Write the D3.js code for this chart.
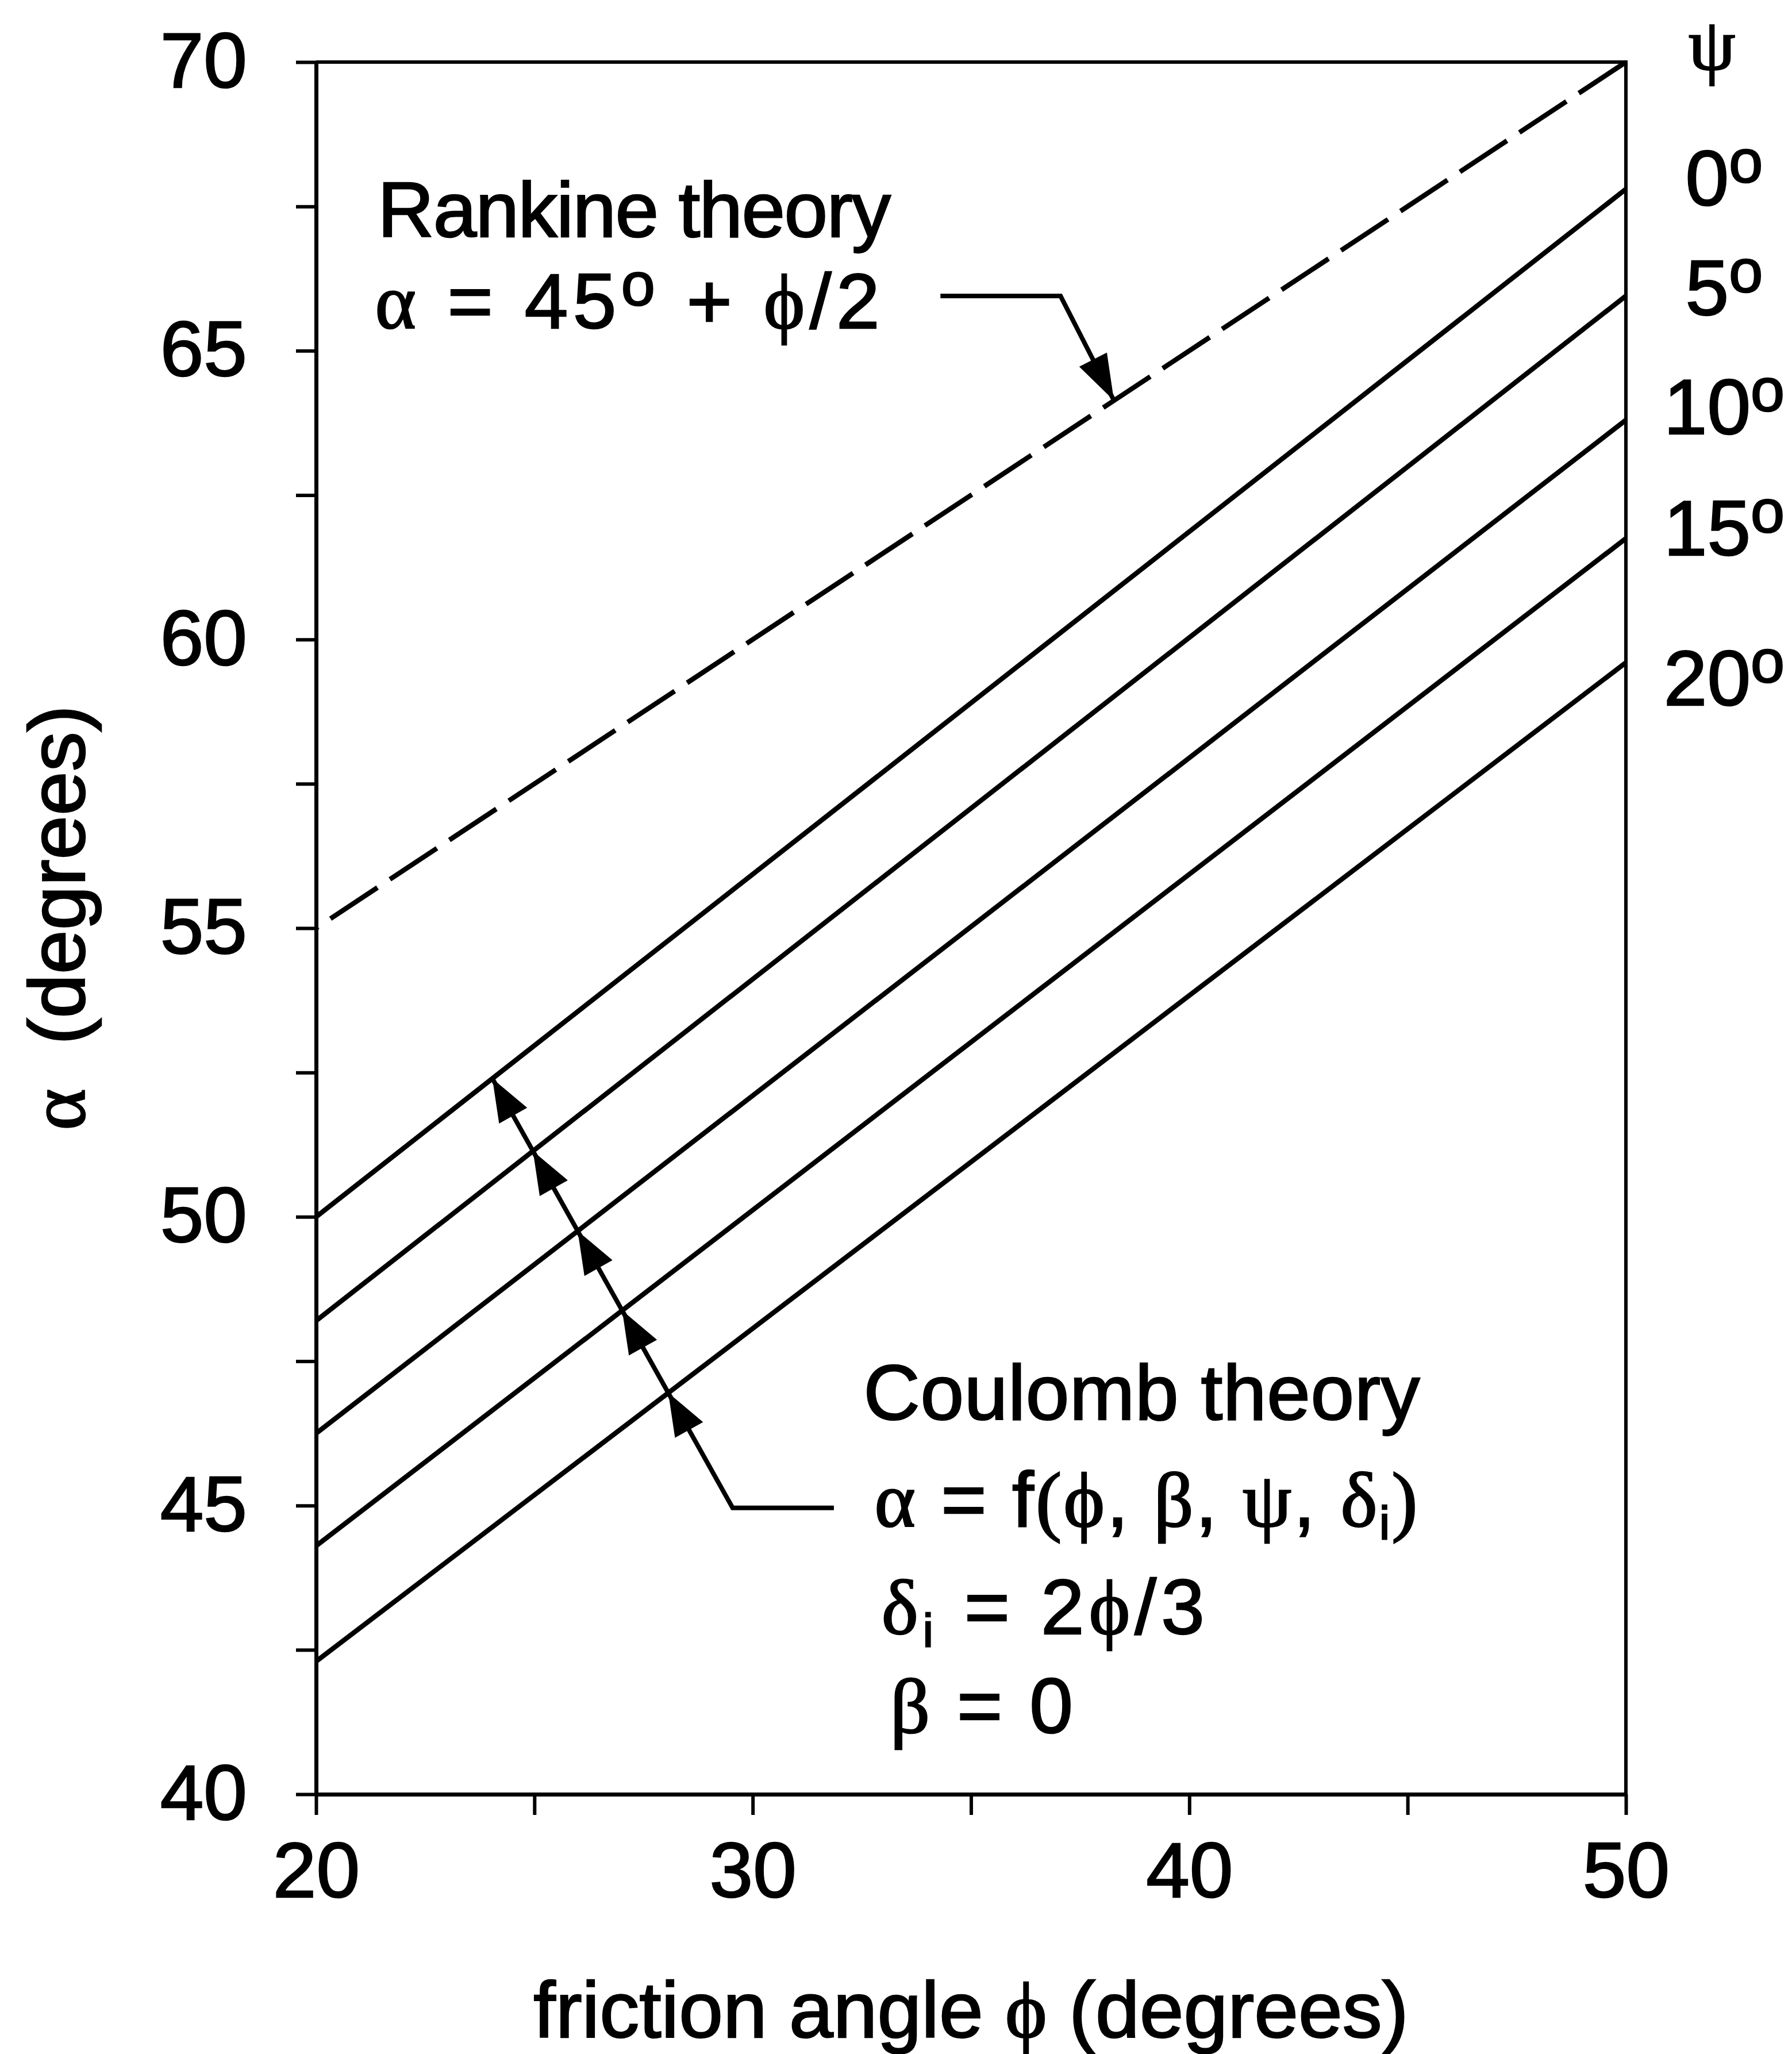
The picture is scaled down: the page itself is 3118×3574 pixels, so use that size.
<!DOCTYPE html>
<html>
<head>
<meta charset="utf-8">
<script src="https://cdn.jsdelivr.net/npm/d3@7"></script>
<style>
    body { margin: 0; background: #fff; }
    text { font-family: "Liberation Sans", Arial, Helvetica, sans-serif; fill: #000; stroke: #000; stroke-width: 2.5px; }
    .gr { font-family: "Liberation Serif", "Times New Roman", serif; }
</style>
</head>
<body>
<div id="chart"></div>
<script>

// ---- data ----
const phiEnds = [20, 50];
const psiValues = [0, 5, 10, 15, 20];
const alphaAtPhi20 = [50.0, 48.2, 46.25, 44.3, 42.3];
const alphaAtPhi50 = [67.8, 65.95, 63.8, 61.75, 59.6];
const rankineAlpha = [55, 70];

const xTickValues = [20, 25, 30, 35, 40, 45, 50];
const xTickLabels = [20, 30, 40, 50];
const yTickValues = [40, 42.5, 45, 47.5, 50, 52.5, 55, 57.5, 60, 62.5, 65, 67.5, 70];
const yTickLabels = [40, 45, 50, 55, 60, 65, 70];

// label anchors (in data units) for the psi column on the right
const psiLabelAlpha = [67.52, 65.62, 63.56, 61.46, 58.86];

// ---- layout ----
const W = 3118, H = 3574;
const margin = {top: 108, right: 289, bottom: 452, left: 550};
const width = W - margin.left - margin.right;
const height = H - margin.top - margin.bottom;
const FS = 136;
const PHI = "\u03d5";

const svg = d3.select("#chart").append("svg")
    .attr("width", W)
    .attr("height", H);

const g = svg.append("g")
    .attr("transform", `translate(${margin.left},${margin.top})`);

const x = d3.scaleLinear().domain([20, 50]).range([0, width]);
const y = d3.scaleLinear().domain([40, 70]).range([height, 0]);

// axes
const xAxis = d3.axisBottom(x)
    .tickValues(xTickValues)
    .tickSize(36)
    .tickSizeOuter(0)
    .tickPadding(46)
    .tickFormat(d => xTickLabels.includes(d) ? d : "");

const yAxis = d3.axisLeft(y)
    .tickValues(yTickValues)
    .tickSize(35)
    .tickSizeOuter(0)
    .tickPadding(85)
    .tickFormat(d => yTickLabels.includes(d) ? d : "");

const gx = g.append("g")
    .attr("transform", `translate(0,${height})`)
    .call(xAxis);
const gy = g.append("g").call(yAxis);

[gx, gy].forEach(a => {
    a.attr("font-family", null).attr("font-size", null);
    a.select(".domain").attr("stroke-width", 7);
    a.selectAll(".tick line").attr("stroke-width", 6);
    a.selectAll(".tick text").style("font-size", FS + "px");
});

// top and right sides of the frame
g.append("path")
    .attr("d", `M${x(20)},${y(70)}H${x(50)}V${y(40)}`)
    .attr("fill", "none")
    .attr("stroke", "#000")
    .attr("stroke-width", 6);

// curves
const line = d3.line().x(d => x(d[0])).y(d => y(d[1]));

const psiLines = psiValues.map((psi, i) => ({
    psi: psi,
    pts: [[phiEnds[0], alphaAtPhi20[i]], [phiEnds[1], alphaAtPhi50[i]]]
}));

g.selectAll(".psi-line")
    .data(psiLines)
    .enter()
    .append("path")
    .attr("class", "psi-line")
    .attr("d", d => line(d.pts))
    .attr("fill", "none")
    .attr("stroke", "#000")
    .attr("stroke-width", 8.5);

const rankinePts = phiEnds.map((p, i) => [p, rankineAlpha[i]]);
g.append("path")
    .datum(rankinePts)
    .attr("d", line)
    .attr("fill", "none")
    .attr("stroke", "#000")
    .attr("stroke-width", 8.5)
    .attr("stroke-dasharray", "98 26")
    .attr("stroke-dashoffset", 94);

// ---- annotation arrows ----
function px(p) { return [x(p[0]), y(p[1])]; }

function intersect(p1, p2, p3, p4) {
    const d = (p1[0] - p2[0]) * (p3[1] - p4[1]) - (p1[1] - p2[1]) * (p3[0] - p4[0]);
    const t = ((p1[0] - p3[0]) * (p3[1] - p4[1]) - (p1[1] - p3[1]) * (p3[0] - p4[0])) / d;
    return [p1[0] + t * (p2[0] - p1[0]), p1[1] + t * (p2[1] - p1[1])];
}

function arrowHead(tip, from, len, half) {
    const dx = tip[0] - from[0], dy = tip[1] - from[1];
    const L = Math.hypot(dx, dy);
    const ux = dx / L, uy = dy / L;
    const bx = tip[0] - ux * len, by = tip[1] - uy * len;
    return `M${tip[0]},${tip[1]}L${bx - uy * half},${by + ux * half}L${bx + uy * half},${by - ux * half}Z`;
}

const arrows = g.append("g");

// Rankine leader
const rStart = px([34.3, 65.95]);
const rElbow = px([37.05, 65.95]);
const rTip = intersect(rElbow, px([38.3, 64.1]), px(rankinePts[0]), px(rankinePts[1]));
arrows.append("path")
    .attr("d", `M${rStart}L${rElbow}L${rTip}`)
    .attr("fill", "none")
    .attr("stroke", "#000")
    .attr("stroke-width", 8);
arrows.append("path")
    .attr("d", arrowHead(rTip, rElbow, 80, 27));

// Coulomb leader with an arrowhead on every psi line
const cStart = px([31.86, 44.96]);
const cElbow = px([29.54, 44.96]);
const cHint = px([23.96, 52.5]);
const crossings = psiLines.map(d => intersect(cElbow, cHint, px(d.pts[0]), px(d.pts[1])));
const cTip = crossings[0];
arrows.append("path")
    .attr("d", `M${cStart}L${cElbow}L${cTip}`)
    .attr("fill", "none")
    .attr("stroke", "#000")
    .attr("stroke-width", 8);
arrows.selectAll(".head")
    .data(crossings)
    .enter()
    .append("path")
    .attr("class", "head")
    .attr("d", c => arrowHead(c, cElbow, 74, 28));

// ---- text ----
function rich(sel, parts) {
    parts.forEach(p => {
        const t = sel.append("tspan").text(p.t);
        if (p.c) t.attr("class", p.c);
        if (p.dy) t.attr("dy", p.dy);
        if (p.fs) t.style("font-size", p.fs + "px");
    });
    return sel;
}

function label(phi, alpha, anchor, len) {
    const t = g.append("text")
        .attr("x", x(phi))
        .attr("y", y(alpha))
        .attr("text-anchor", anchor || "start")
        .style("font-size", FS + "px");
    if (len) t.attr("textLength", len).attr("lengthAdjust", "spacing");
    return t;
}

const degUp = {t: "o", fs: FS * 0.78, dy: -40};

label(21.41, 66.97, "start", 893).text("Rankine theory");
rich(label(21.35, 65.39, "start", 878), [
    {t: "\u03b1", c: "gr"}, {t: " = 45"}, degUp,
    {t: " + ", dy: 40}, {t: PHI, c: "gr"}, {t: "/2"}
]);

label(32.54, 46.49, "start", 968).text("Coulomb theory");
rich(label(32.79, 44.64, "start", 945), [
    {t: "\u03b1", c: "gr"}, {t: " = f"}, {t: "(", c: "gr"},
    {t: PHI, c: "gr"}, {t: ", "}, {t: "\u03b2", c: "gr"}, {t: ", "},
    {t: "\u03c8", c: "gr"}, {t: ", "}, {t: "\u03b4", c: "gr"},
    {t: "i", fs: FS * 0.6, dy: 22}, {t: ")", c: "gr", dy: -22}
]);
rich(label(32.95, 42.78, "start", 562), [
    {t: "\u03b4", c: "gr"}, {t: "i", fs: FS * 0.6, dy: 22},
    {t: " = 2", dy: -22}, {t: PHI, c: "gr"}, {t: "/3"}
]);
rich(label(33.15, 41.07, "start", 318), [{t: "\u03b2", c: "gr"}, {t: " = 0"}]);

// psi column
label(51.97, 69.87, "middle")
    .attr("class", "gr")
    .style("font-size", "130px")
    .text("\u03c8");
psiValues.forEach((psi, i) => {
    rich(label(52.25, psiLabelAlpha[i], "middle"), [{t: String(psi)}, degUp]);
});

// axis titles
svg.append("text")
    .attr("x", margin.left + width / 2)
    .attr("y", 3545)
    .attr("text-anchor", "middle")
    .style("font-size", "138px")
    .call(t => rich(t, [{t: "friction angle "}, {t: PHI, c: "gr"}, {t: " (degrees)"}]));

svg.append("text")
    .attr("transform", `translate(147,${margin.top + 1489}) rotate(-90)`)
    .attr("text-anchor", "middle")
    .style("font-size", "138px")
    .call(t => rich(t, [{t: "\u03b1", c: "gr"}, {t: "\u00a0 (degrees)"}]));

</script>
</body>
</html>
